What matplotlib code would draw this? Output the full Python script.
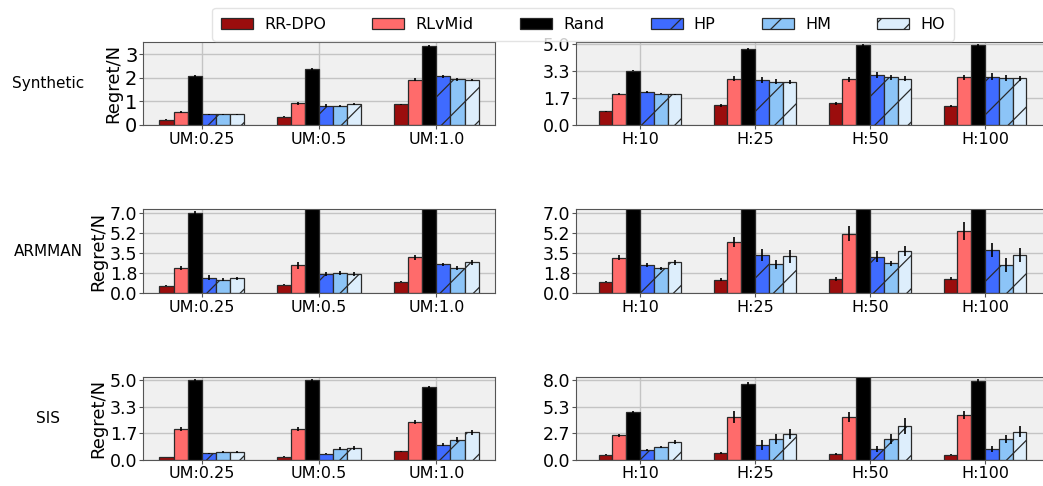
import matplotlib
matplotlib.use("Agg")
import matplotlib.pyplot as plt
from matplotlib.patches import Patch
from matplotlib.ticker import FormatStrFormatter
import numpy as np

methods = ['RR-DPO', 'RLvMid', 'Rand', 'HP', 'HM', 'HO']
colors = ['#9b0d0d', '#ff6b6b', '#000000', '#3f6bff', '#8cc4f7', '#ddeefc']
hatches = ['', '', '', '/', '/', '/']

um_labels = ['UM:0.25', 'UM:0.5', 'UM:1.0']
h_labels = ['H:10', 'H:25', 'H:50', 'H:100']
datasets = ['Synthetic', 'ARMMAN', 'SIS']

# rows = methods, cols = groups
syn_um_vals = [[0.22, 0.35, 0.87], [0.57, 0.92, 1.92], [2.08, 2.38, 3.35],
               [0.45, 0.81, 2.07], [0.45, 0.81, 1.94], [0.45, 0.90, 1.92]]
syn_um_err = [[0.02, 0.02, 0.04], [0.04, 0.07, 0.07], [0.03, 0.03, 0.04],
              [0.03, 0.06, 0.06], [0.03, 0.05, 0.06], [0.03, 0.05, 0.05]]
syn_h_vals = [[0.85, 1.22, 1.34, 1.18], [1.90, 2.85, 2.83, 2.93], [3.35, 4.69, 4.92, 4.92],
              [2.05, 2.75, 3.10, 2.98], [1.94, 2.67, 2.93, 2.89], [1.90, 2.67, 2.85, 2.89]]
syn_h_err = [[0.04, 0.08, 0.10, 0.08], [0.06, 0.15, 0.15, 0.18], [0.04, 0.06, 0.10, 0.10],
             [0.05, 0.18, 0.18, 0.20], [0.04, 0.15, 0.15, 0.18], [0.03, 0.12, 0.15, 0.15]]

arm_um_vals = [[0.62, 0.74, 1.00], [2.20, 2.44, 3.12], [7.00, 12.0, 12.0],
               [1.35, 1.68, 2.50], [1.18, 1.74, 2.18], [1.29, 1.65, 2.68]]
arm_um_err = [[0.05, 0.05, 0.06], [0.20, 0.30, 0.25], [0.20, 0.0, 0.0],
              [0.20, 0.20, 0.15], [0.15, 0.20, 0.15], [0.15, 0.15, 0.20]]
arm_h_vals = [[0.97, 1.18, 1.24, 1.24], [3.09, 4.44, 5.20, 5.41], [12.0, 12.0, 12.0, 12.0],
              [2.47, 3.32, 3.18, 3.76], [2.15, 2.53, 2.59, 2.47], [2.68, 3.20, 3.68, 3.32]]
arm_h_err = [[0.05, 0.10, 0.15, 0.12], [0.20, 0.45, 0.65, 0.80], [0.0, 0.0, 0.0, 0.0],
             [0.15, 0.50, 0.50, 0.60], [0.15, 0.40, 0.25, 0.60], [0.20, 0.60, 0.45, 0.60]]

sis_um_vals = [[0.15, 0.19, 0.51], [1.91, 1.91, 2.38], [5.02, 5.02, 4.57],
               [0.40, 0.38, 0.94], [0.47, 0.68, 1.26], [0.49, 0.74, 1.72]]
sis_um_err = [[0.02, 0.02, 0.04], [0.12, 0.12, 0.15], [0.05, 0.10, 0.06],
              [0.03, 0.03, 0.08], [0.06, 0.10, 0.15], [0.06, 0.12, 0.15]]
sis_h_vals = [[0.47, 0.67, 0.57, 0.50], [2.47, 4.27, 4.30, 4.47], [4.80, 7.67, 10.0, 7.93],
              [1.00, 1.47, 1.03, 1.03], [1.27, 2.07, 2.07, 2.07], [1.80, 2.57, 3.40, 2.83]]
sis_h_err = [[0.05, 0.12, 0.08, 0.08], [0.15, 0.60, 0.50, 0.40], [0.08, 0.20, 0.0, 0.20],
             [0.10, 0.50, 0.30, 0.30], [0.10, 0.50, 0.50, 0.40], [0.20, 0.50, 0.80, 0.60]]

# (ylim top, tick top, number of ticks)
syn_um_y = (3.52, 3, 4)
syn_h_y = (5.12, 5.0, 4)
arm_y = (7.35, 7.0, 5)
sis_um_y = (5.25, 5.0, 4)
sis_h_y = (8.4, 8.0, 4)

plt.rcParams['hatch.linewidth'] = 0.9
plt.rcParams['font.family'] = 'DejaVu Sans'

fig = plt.figure(figsize=(10.43, 4.86), dpi=100)

rows = [
    (syn_um_vals, syn_um_err, syn_um_y, syn_h_vals, syn_h_err, syn_h_y),
    (arm_um_vals, arm_um_err, arm_y, arm_h_vals, arm_h_err, arm_y),
    (sis_um_vals, sis_um_err, sis_um_y, sis_h_vals, sis_h_err, sis_h_y),
]
row_bottoms = [0.7428, 0.3971, 0.0545]
row_heights = [0.1708, 0.1728, 0.1708]

width = 0.12


def draw(ax, vals, errs, labels, ylim, xpad, int_ticks=False):
    ax.set_facecolor('#f0f0f0')
    ax.set_axisbelow(True)
    ax.grid(True, color='#c4c4c4', linewidth=1.0)
    x = np.arange(len(labels))
    for i in range(len(methods)):
        off = (i - 2.5) * width
        ax.bar(x + off, vals[i], width=width, color=colors[i], hatch=hatches[i],
               edgecolor='#2a2a2a', linewidth=0.9, yerr=errs[i],
               error_kw=dict(ecolor='black', elinewidth=1.2, capsize=0))
    ax.set_xticks(x)
    ax.set_xticklabels(labels, fontsize=11.5)
    ax.set_xlim(-xpad, len(labels) - 1 + xpad)
    top, ttop, n = ylim
    ax.set_ylim(0, top)
    if int_ticks:
        ax.set_yticks(np.arange(0, ttop + 1))
        ax.tick_params(axis='y', labelsize=14)
    else:
        ax.set_yticks(np.linspace(0, ttop, n))
        ax.yaxis.set_major_formatter(FormatStrFormatter('%.1f'))
        ax.tick_params(axis='y', labelsize=12.5)
    ax.tick_params(axis='y', pad=1, length=3, color='#555555')
    ax.tick_params(axis='x', length=3, pad=2, color='#555555')
    for s in ax.spines.values():
        s.set_color('#555555')


for r, (uv, ue, uy, hv, he, hy) in enumerate(rows):
    axl = fig.add_axes([0.1371, row_bottoms[r], 0.3375, row_heights[r]])
    draw(axl, uv, ue, um_labels, uy, 0.5, int_ticks=(r == 0))
    axl.set_ylabel('Regret/N', fontsize=13, labelpad=2)
    axr = fig.add_axes([0.5523, row_bottoms[r], 0.4535, row_heights[r]])
    draw(axr, hv, he, h_labels, hy, 0.557)
    fig.text(0.046, row_bottoms[r] + row_heights[r] * 0.5, datasets[r],
             fontsize=11, ha='center', va='center')

handles = [Patch(facecolor=colors[i], edgecolor='#2a2a2a', hatch=hatches[i], linewidth=0.9)
           for i in range(len(methods))]
fig.legend(handles, methods, loc='upper center', bbox_to_anchor=(0.559, 1.0), ncol=6,
           fontsize=11.5, handlelength=2.0, columnspacing=2.9, handletextpad=0.7,
           frameon=True, edgecolor='#dddddd', fancybox=True, borderpad=0.55)

fig.savefig('out.png', dpi=100)
